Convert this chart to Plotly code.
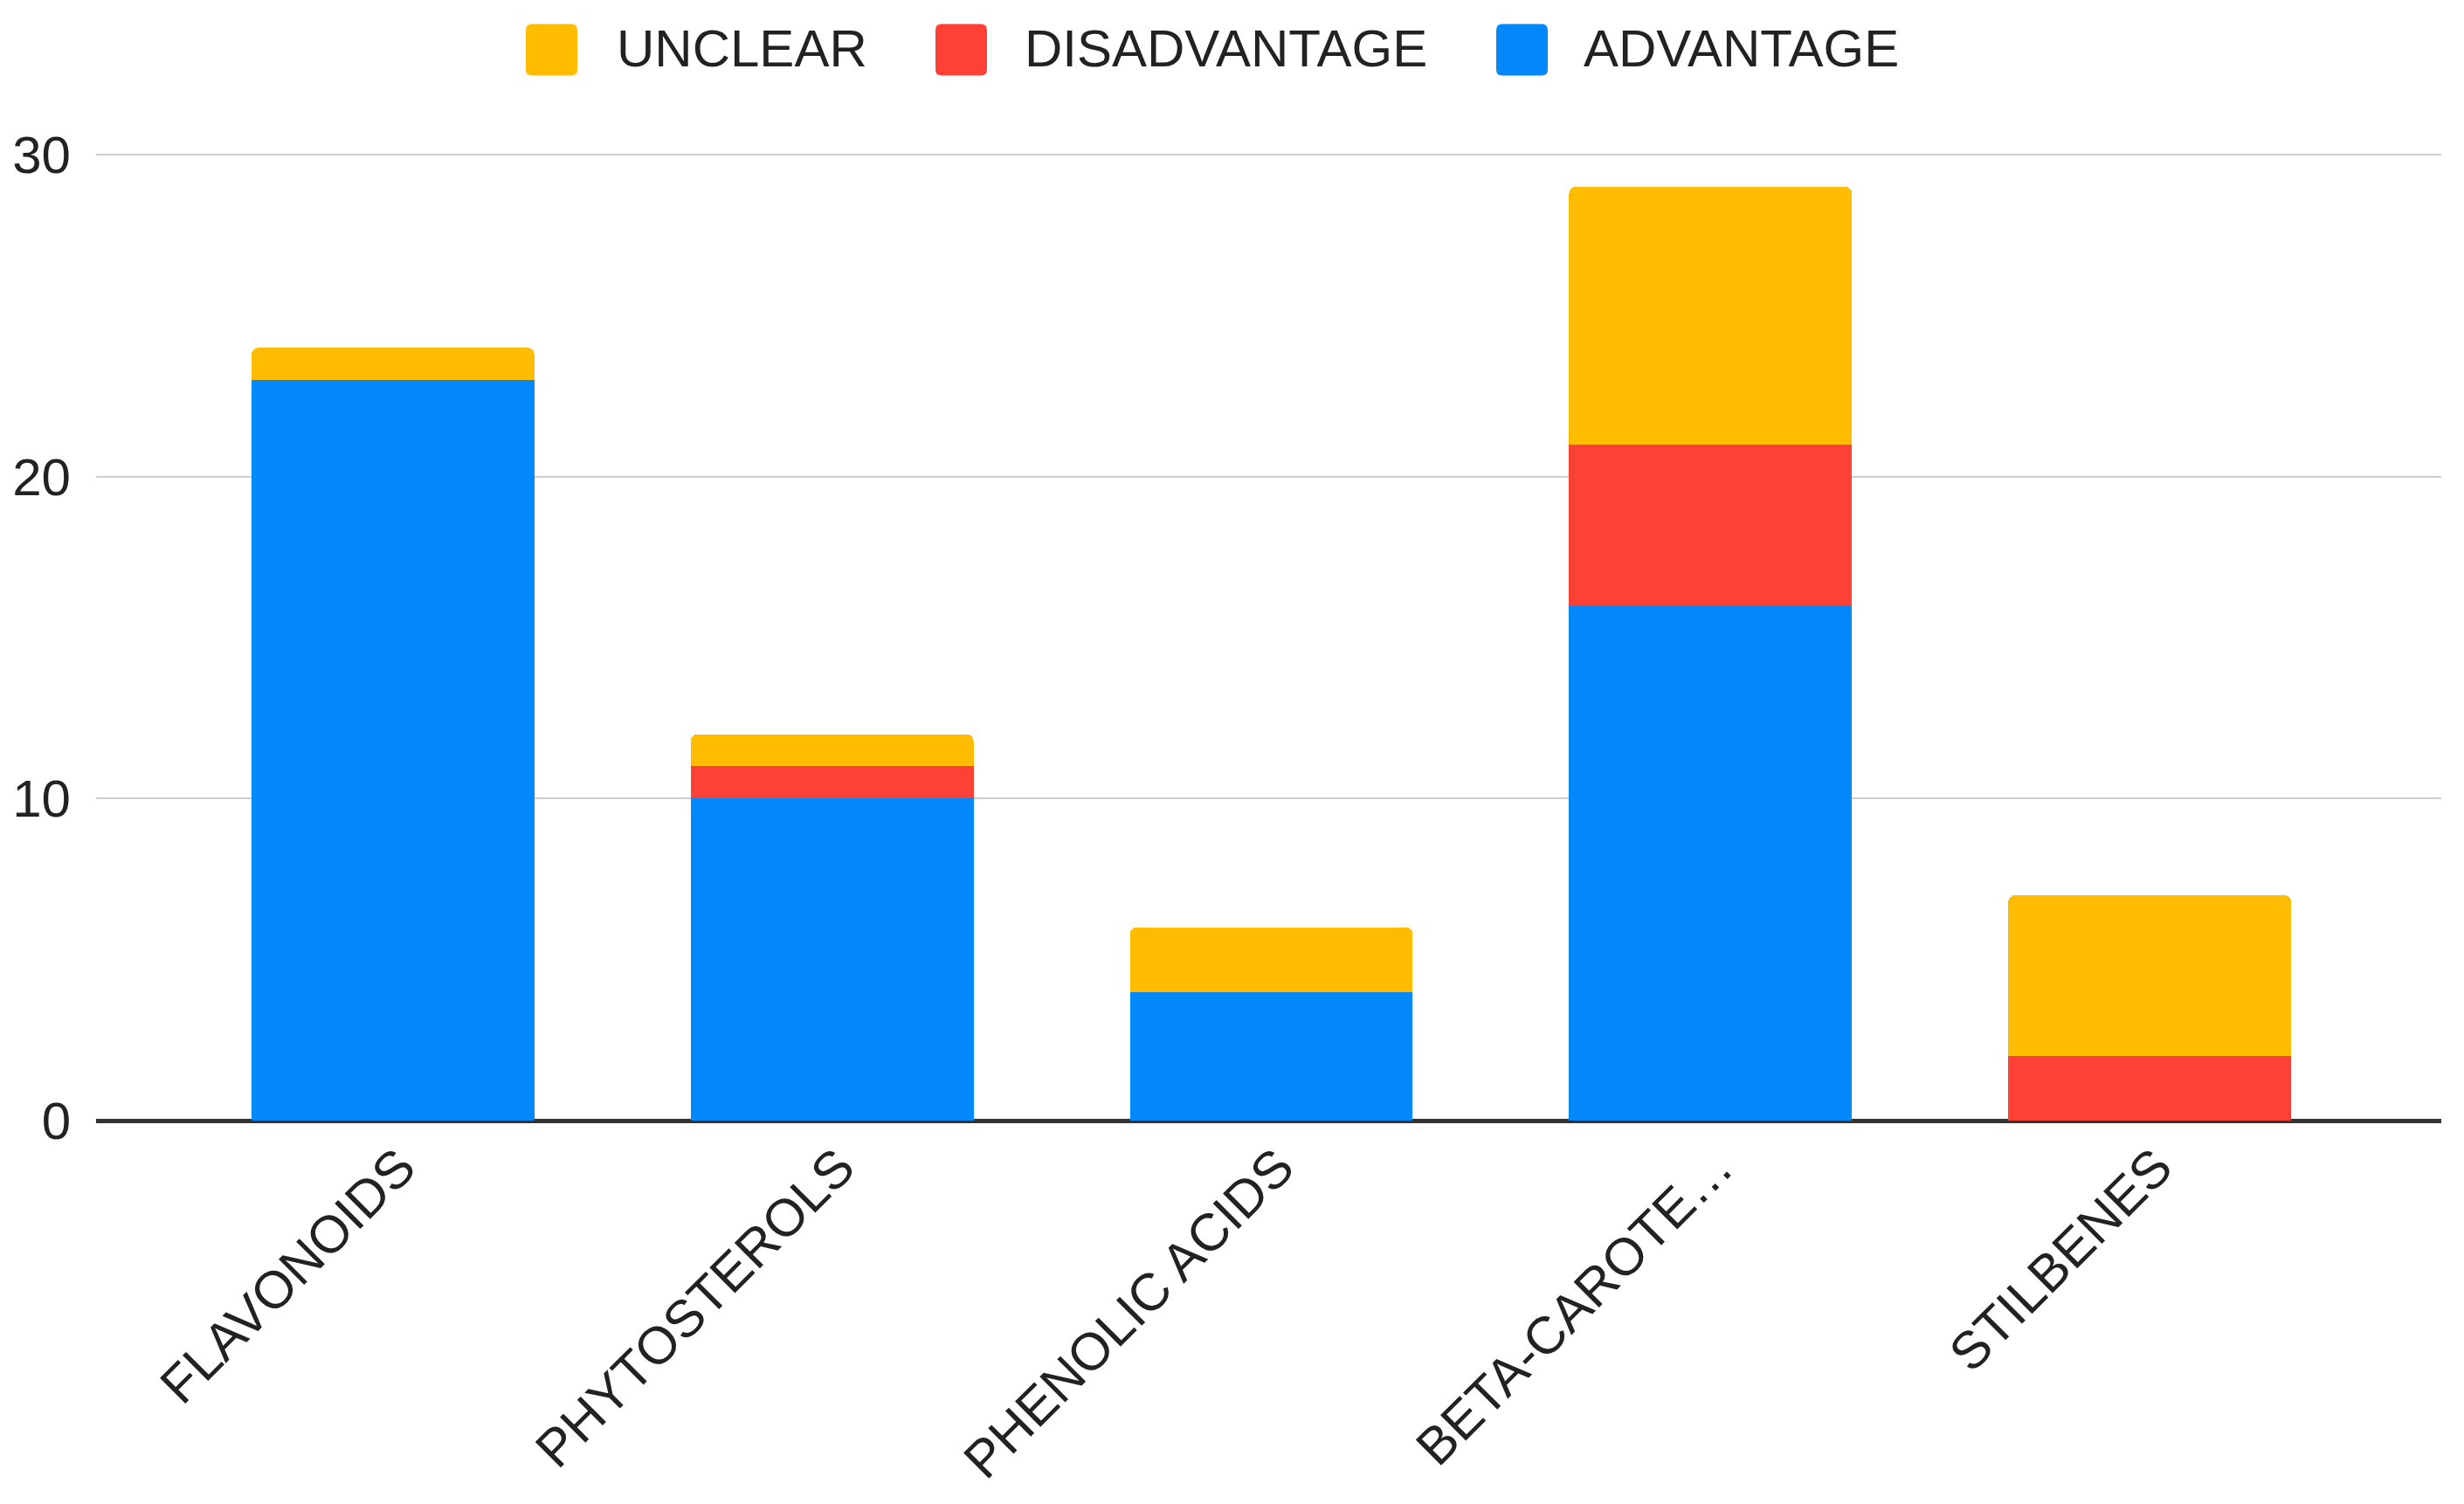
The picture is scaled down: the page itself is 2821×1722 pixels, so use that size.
import plotly.graph_objects as go

categories = ["FLAVONOIDS", "PHYTOSTEROLS", "PHENOLIC ACIDS", "BETA-CAROTE…", "STILBENES"]
advantage = [23, 10, 4, 16, 0]
disadvantage = [0, 1, 0, 5, 2]
unclear = [1, 1, 2, 8, 5]

series_names = ["ADVANTAGE", "DISADVANTAGE", "UNCLEAR"]
series_values = [advantage, disadvantage, unclear]
colors = ["#0388FB", "#FF4034", "#FFBC00"]

W, H = 2821, 1722
ML, MR, MT, MB = 102, 34, 167, 447
FONT = "Liberation Sans, Arial, sans-serif"
TXT = "#222222"
FS = 60

fig = go.Figure()
for name, vals, col in zip(series_names, series_values, colors):
    fig.add_trace(go.Bar(x=categories, y=vals, name=name, marker_color=col,
                         marker_line_width=0, showlegend=False))

# Manual legend (order: UNCLEAR, DISADVANTAGE, ADVANTAGE)
legend_items = [("UNCLEAR", colors[2], 594, 696),
                ("DISADVANTAGE", colors[1], 1063, 1163),
                ("ADVANTAGE", colors[0], 1705, 1803)]
pw = W - ML - MR
ph = H - MT - MB
def px2x(px):
    return (px - ML) / pw
def py2y(py):
    return (H - MB - py) / ph

sw, r = 59, 7
cy = 49
for label, col, sx, tx in legend_items:
    path = (f"M {r} 0 L {sw-r} 0 Q {sw} 0 {sw} {r} L {sw} {sw-r} Q {sw} {sw} {sw-r} {sw} "
            f"L {r} {sw} Q 0 {sw} 0 {sw-r} L 0 {r} Q 0 0 {r} 0 Z")
    fig.add_shape(type="path", xref="paper", yref="paper",
                  xsizemode="pixel", ysizemode="pixel",
                  xanchor=px2x(sx), yanchor=py2y(cy + sw / 2),
                  path=path, fillcolor=col, line_width=0)
    fig.add_annotation(x=px2x(tx), y=py2y(47), xref="paper", yref="paper",
                       text=label, showarrow=False, xanchor="left", yanchor="middle",
                       font=dict(family=FONT, size=FS, color=TXT))

fig.update_layout(
    width=W, height=H,
    barmode="stack",
    bargap=0.356,
    barcornerradius=8,
    plot_bgcolor="white", paper_bgcolor="white",
    margin=dict(l=ML, r=MR, t=MT, b=MB),
    font=dict(family=FONT, size=FS, color=TXT),
    xaxis=dict(range=[-0.676, 4.664], tickangle=-45, showgrid=False, automargin=False,
               tickfont=dict(size=FS, color=TXT), showline=False,
               ticklabelshift=8, ticklabelstandoff=5),
    yaxis=dict(range=[0, 30.05], tickvals=[0, 10, 20, 30], showgrid=True, automargin=False,
               gridcolor="#CCCCCC", gridwidth=2, zeroline=True,
               zerolinecolor="#333333", zerolinewidth=5,
               tickfont=dict(size=FS, color=TXT), ticklabelstandoff=28),
)

fig.write_html("out.html")
